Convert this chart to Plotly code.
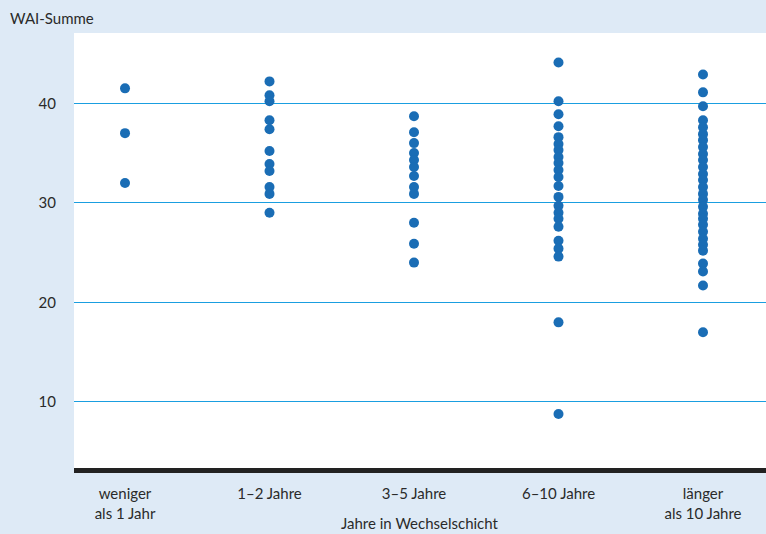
import plotly.graph_objects as go

categories = ["weniger<br>als 1 Jahr", "1–2 Jahre", "3–5 Jahre", "6–10 Jahre", "länger<br>als 10 Jahre"]

wai_lt1 = [41.5, 37.0, 32.0]
wai_1_2 = [42.2, 40.8, 40.2, 38.3, 37.4, 35.2, 33.9, 33.2, 31.6, 30.9, 29.0]
wai_3_5 = [38.7, 37.1, 36.0, 35.0, 34.3, 33.6, 32.7, 31.6, 30.9, 28.0, 25.9, 24.0]
wai_6_10 = [44.1, 40.2, 38.9, 37.7, 36.6, 35.9, 35.3, 34.6, 34.0, 33.3, 32.6, 31.7,
            30.6, 29.7, 29.0, 28.4, 27.6, 26.2, 25.4, 24.6, 18.0, 8.8]
wai_gt10 = [42.9, 41.1, 39.7, 38.3, 37.6, 36.9, 36.3, 35.6, 34.9, 34.3, 33.6, 32.9,
            32.3, 31.6, 30.9, 30.3, 29.6, 28.9, 28.4, 27.8, 27.1, 26.4, 25.8, 25.2,
            23.9, 23.1, 21.7, 17.0]

groups = [wai_lt1, wai_1_2, wai_3_5, wai_6_10, wai_gt10]

y_ticks = [10, 20, 30, 40]
y_title = "WAI-Summe"
x_title = "Jahre in Wechselschicht"

xs, ys = [], []
for i, g in enumerate(groups):
    xs += [i] * len(g)
    ys += g

FONT = "Lato, 'Open Sans', sans-serif"
TXT = "#2a2a2a"

fig = go.Figure()
fig.add_trace(go.Scatter(
    x=xs, y=ys, mode="markers",
    marker=dict(size=10, color="#1a6db5", line=dict(width=0)),
    hoverinfo="y", showlegend=False,
))

fig.update_layout(
    width=766, height=534,
    paper_bgcolor="#deeaf6",
    plot_bgcolor="#ffffff",
    margin=dict(l=74, r=0, t=33, b=66),
    font=dict(family=FONT, size=15, color=TXT),
    xaxis=dict(
        range=[-0.353, 4.436],
        tickmode="array", tickvals=list(range(len(categories))), ticktext=categories,
        showgrid=False, zeroline=False,
        showline=True, linecolor="#222222", linewidth=5,
        ticks="", ticklabelstandoff=8,
        fixedrange=True,
    ),
    yaxis=dict(
        range=[3.37, 47.06],
        tickmode="array", tickvals=y_ticks, ticktext=[str(v) for v in y_ticks],
        showgrid=True, gridcolor="#1a9ee0", gridwidth=1.2,
        zeroline=False, showline=False, ticks="", ticklabelstandoff=17,
        fixedrange=True,
    ),
    annotations=[
        dict(text=y_title, xref="paper", yref="paper",
             x=-74/692, y=1 + 15/435, xanchor="left", yanchor="middle",
             showarrow=False, font=dict(family=FONT, size=15, color=TXT), xshift=8),
        dict(text=x_title, xref="paper", yref="paper",
             x=0.5, y=-55/435, xanchor="center", yanchor="middle",
             showarrow=False, font=dict(family=FONT, size=15, color=TXT)),
    ],
)

fig.write_html(
    "out.html",
    config={"displayModeBar": False},
    post_script="document.body.style.margin='0';document.body.style.overflow='hidden';",
)
